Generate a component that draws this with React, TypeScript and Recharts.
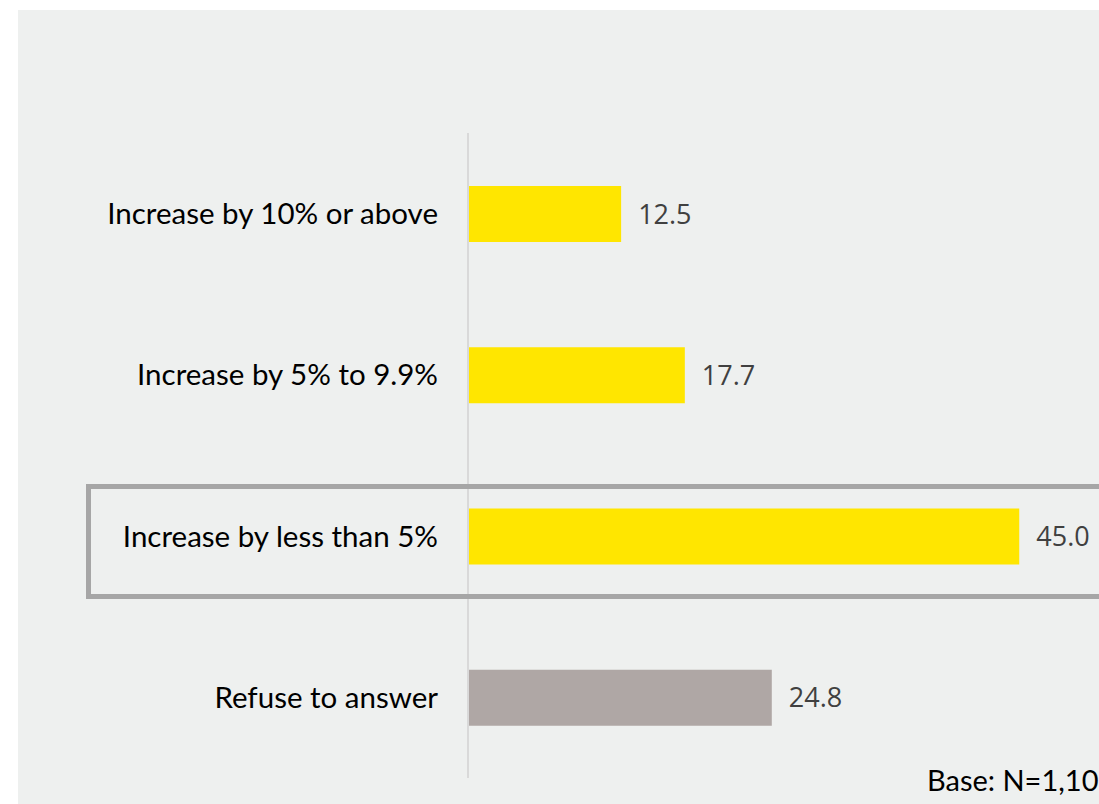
import { BarChart, Bar, XAxis, YAxis, Cell, LabelList } from 'recharts'

const categories = [
  'Increase by 10% or above',
  'Increase by 5% to 9.9%',
  'Increase by less than 5%',
  'Refuse to answer',
]
const shares = [12.5, 17.7, 45.0, 24.8]
const barColors = ['#FFE600', '#FFE600', '#FFE600', '#AFA7A5']
const baseNote = 'Base: N=1,103'

const data = categories.map((c, i) => ({ category: c, value: shares[i] }))

const FONT = 'Lato, "Noto Sans", sans-serif'
const VALUE_FONT = '"Open Sans", "Noto Sans", sans-serif'

export default function App() {
  return (
    <div
      style={{
        position: 'fixed',
        left: 18,
        top: 10,
        width: 1200,
        height: 800,
        background: '#EEF0EF',
        fontFamily: FONT,
      }}
    >
      <BarChart
        width={1200}
        height={800}
        data={data}
        layout="vertical"
        margin={{ top: 123, right: 137.5, bottom: 32, left: 0 }}
        barCategoryGap={0}
        barSize={56}
      >
        <XAxis type="number" domain={[0, 50]} hide />
        <YAxis
          type="category"
          dataKey="category"
          width={450}
          axisLine={{ stroke: '#D9D9D9', strokeWidth: 2 }}
          tickLine={false}
          tickSize={0}
          tickMargin={30}
          tick={{ fill: '#000000', fontSize: 29.5, fontFamily: FONT }}
        />
        <Bar dataKey="value" isAnimationActive={false}>
          {data.map((entry, index) => (
            <Cell key={`cell-${index}`} fill={barColors[index]} />
          ))}
          <LabelList
            dataKey="value"
            position="right"
            offset={17}
            formatter={(v: number) => v.toFixed(1)}
            style={{ fill: '#404040', fontSize: 27, fontFamily: VALUE_FONT }}
          />
        </Bar>
      </BarChart>
      <div
        style={{
          position: 'absolute',
          left: 68,
          top: 474,
          width: 1100,
          height: 105,
          border: '5px solid #A6A6A6',
        }}
      />
      <div
        style={{
          position: 'absolute',
          left: 909,
          top: 752,
          fontSize: 29,
          color: '#000000',
          whiteSpace: 'nowrap',
        }}
      >
        {baseNote}
      </div>
    </div>
  )
}
